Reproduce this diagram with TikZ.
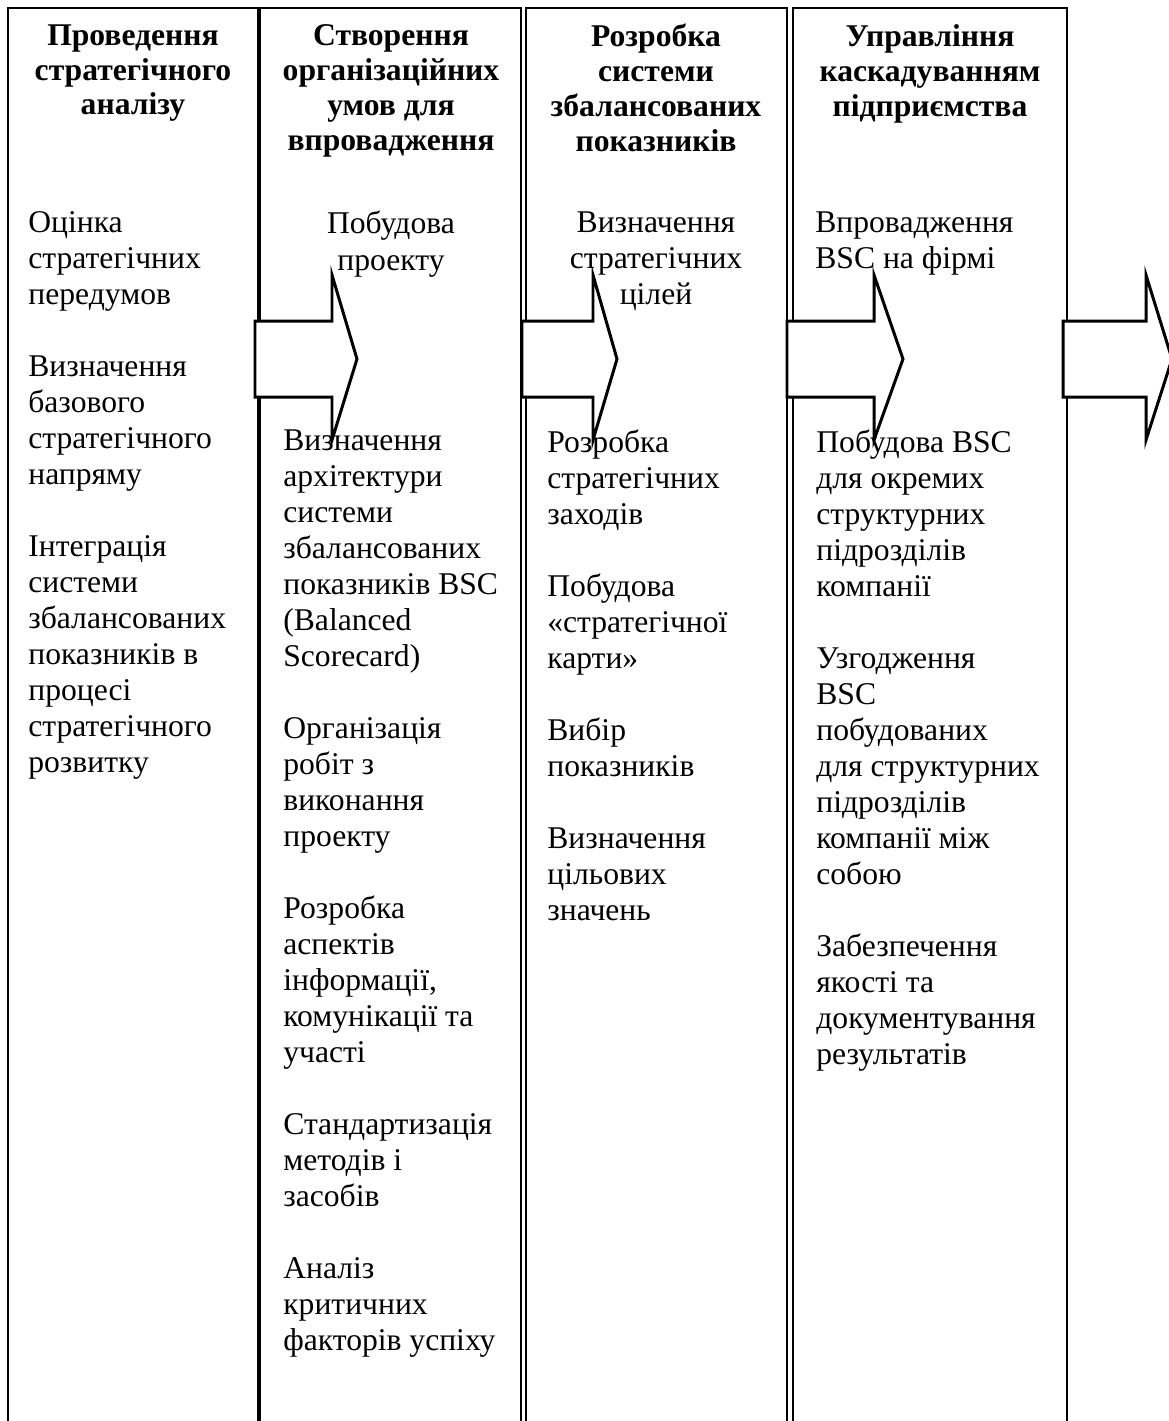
\documentclass[tikz,border=0pt]{standalone}
\usepackage{fontspec}
\setmainfont{Liberation Serif}
\usetikzlibrary{positioning}

\tikzset{
  stage/.style={draw, line width=1.6pt},
  stagethin/.style={draw, line width=0.9pt},
  head/.style={font=\fontsize{18}{19.9}\selectfont\bfseries, align=center, inner sep=0pt, anchor=north, execute at begin node=\strut},
  item/.style={font=\fontsize{18}{20.5}\selectfont, align=left, inner sep=0pt, anchor=north west, execute at begin node=\strut},
  itemc/.style={item, align=center, anchor=north},
  flow/.style={draw, fill=white, line width=1.7pt, line join=miter}
}

\begin{document}
\begin{tikzpicture}[x=0.02cm,y=-0.02cm]
\useasboundingbox (0,0) rectangle (1169,1421);
\clip (0,0) rectangle (1169,1421);

% columns
\draw[stage] (8,8) rectangle (258,1460);
\draw[stagethin] (260,8) rectangle (521,1460);
\draw[stagethin] (526,8) rectangle (787,1460);
\draw[stage] (793,8) rectangle (1067,1460);

% arrows between the stages
\foreach \xa/\xb/\xc in {255/332/357, 522/593/617, 787/874/903, 1063/1146/1172}{
  \draw[flow] (\xa,321) -- (\xb,321) -- (\xb,275) -- (\xc,359)
     -- (\xb,440) -- (\xb,397) -- (\xa,397) -- cycle;
}

% headers
\node[head] (h1) at (133,24) {Проведення\\стратегічного\\аналізу};
\node[head] (h2) at (391,24) {Створення\\організаційних\\умов для\\впровадження};
\node[head] (h3) at (656,24) {Розробка\\системи\\збалансованих\\показників};
\node[head] (h4) at (930,24) {Управління\\каскадуванням\\підприємства};

% stage 1
\node[item] (s1) at (28,211) {Оцінка\\стратегічних\\передумов\\[20.5pt]
Визначення\\базового\\стратегічного\\напряму\\[20.5pt]
Інтеграція\\системи\\збалансованих\\показників в\\процесі\\стратегічного\\розвитку};

% stage 2
\node[itemc] (t2) at (391,211) {Побудова\\проекту};
\node[item] (s2) at (283,429) {Визначення\\архітектури\\системи\\збалансованих\\показників BSC\\(Balanced\\Scorecard)\\[20.5pt]
Організація\\робіт з\\виконання\\проекту\\[20.5pt]
Розробка\\аспектів\\інформації,\\комунікації та\\участі\\[20.5pt]
Стандартизація\\методів і\\засобів\\[20.5pt]
Аналіз\\критичних\\факторів успіху};

% stage 3
\node[itemc] (t3) at (656,211) {Визначення\\стратегічних\\цілей};
\node[item] (s3) at (547,429) {Розробка\\стратегічних\\заходів\\[20.5pt]
Побудова\\«стратегічної\\карти»\\[20.5pt]
Вибір\\показників\\[20.5pt]
Визначення\\цільових\\значень};

% stage 4
\node[item] (t4) at (815,211) {Впровадження\\BSC на фірмі};
\node[item] (s4) at (816,429) {Побудова BSC\\для окремих\\структурних\\підрозділів\\компанії\\[20.5pt]
Узгодження\\BSC\\побудованих\\для структурних\\підрозділів\\компанії між\\собою\\[20.5pt]
Забезпечення\\якості та\\документування\\результатів};
\end{tikzpicture}
\end{document}
